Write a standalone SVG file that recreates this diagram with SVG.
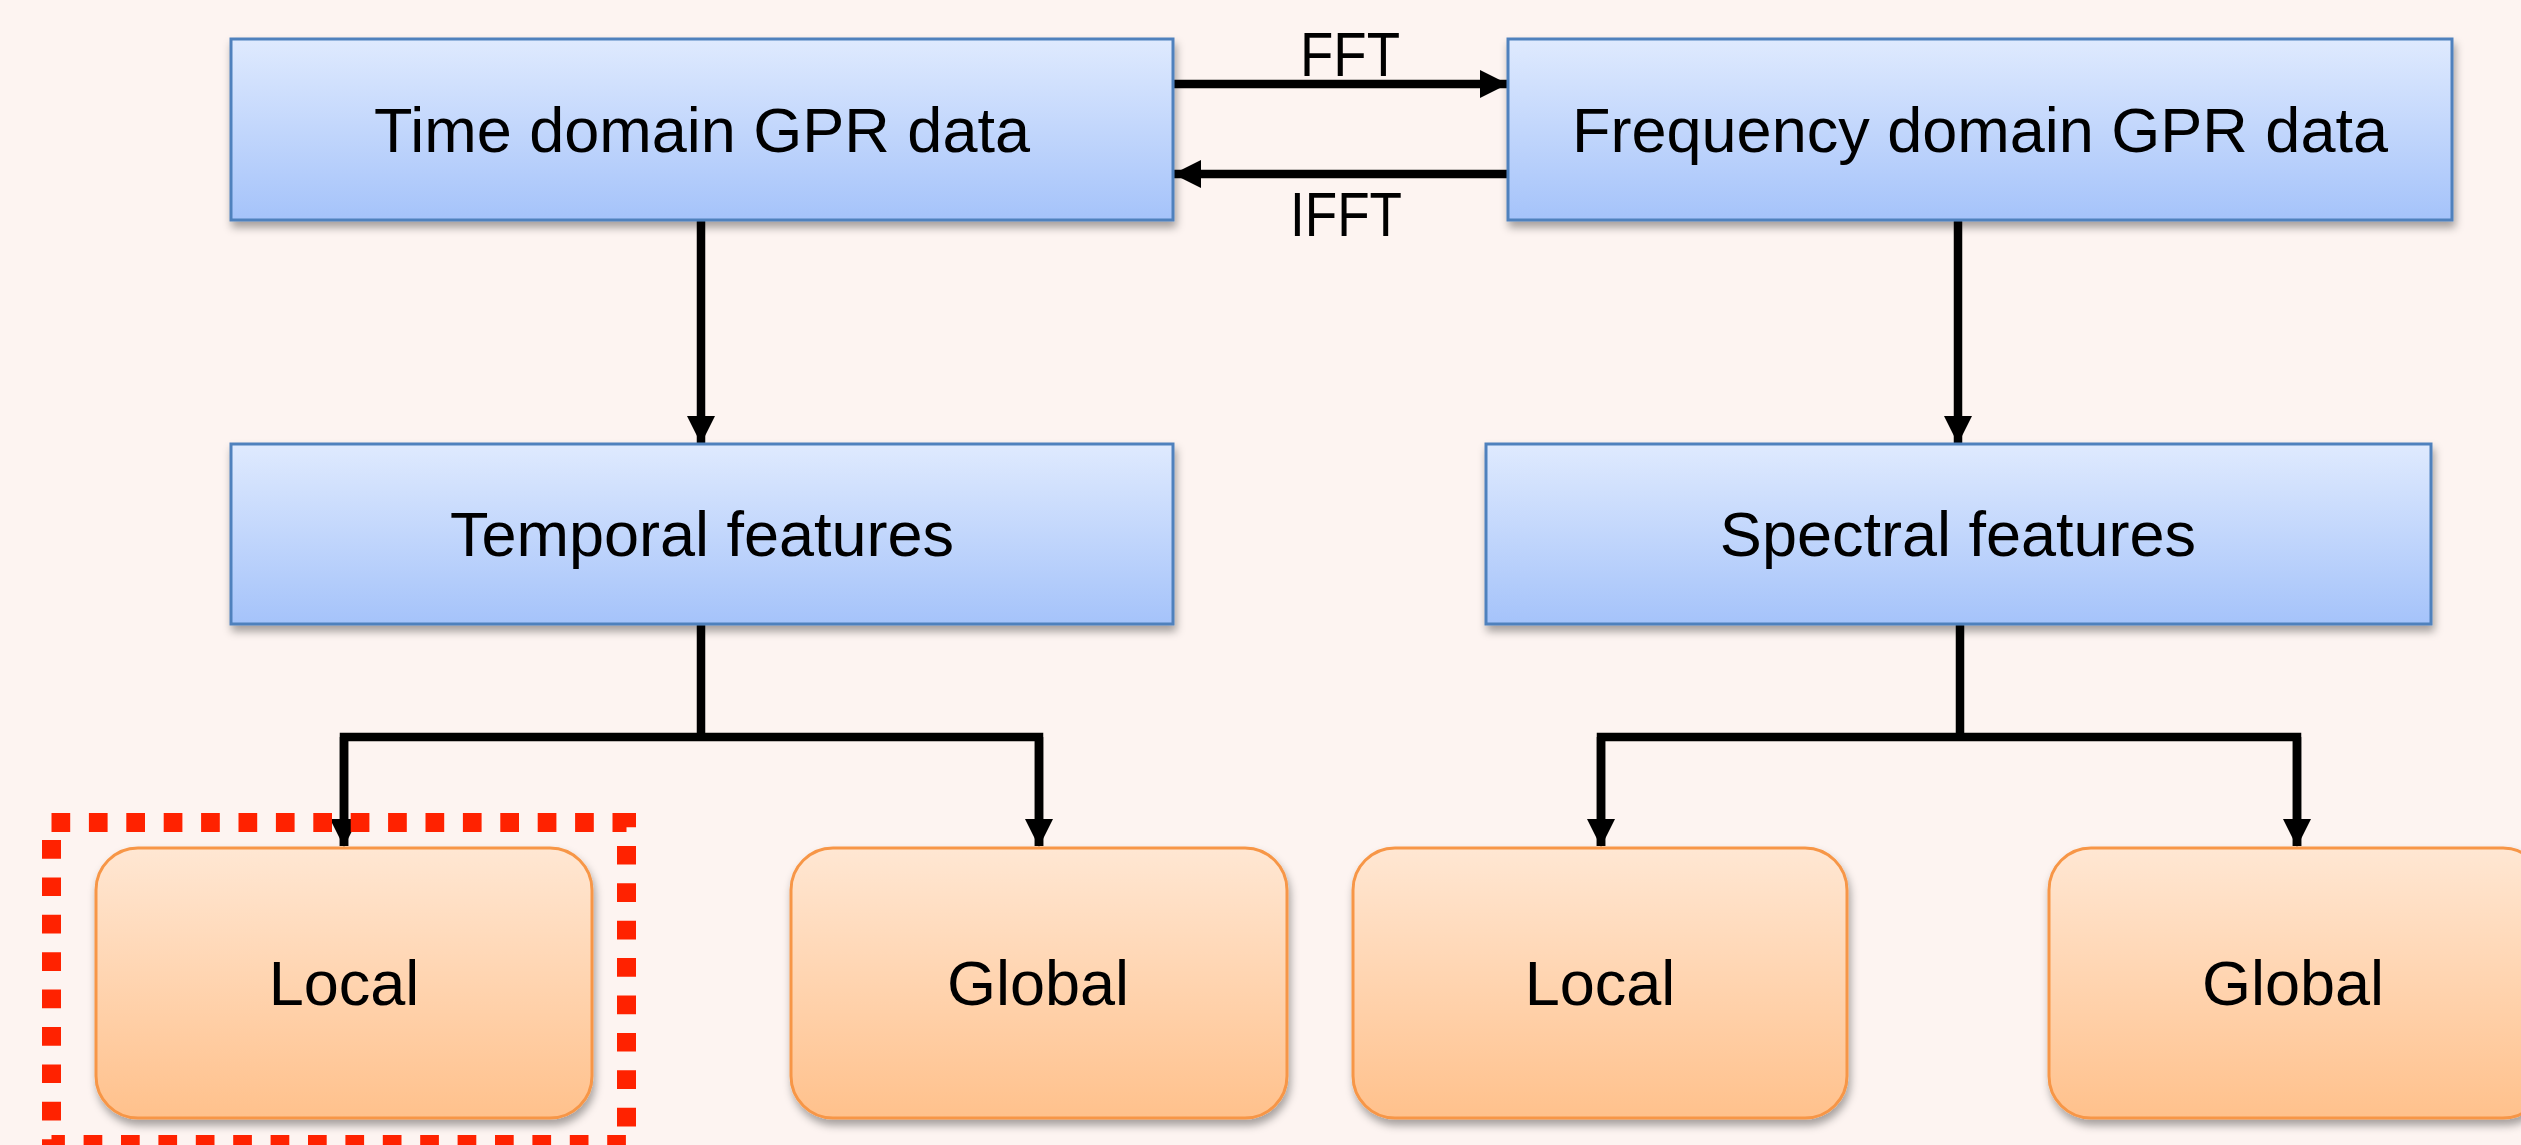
<svg xmlns="http://www.w3.org/2000/svg" width="2521" height="1145" viewBox="0 0 2521 1145">
<defs>
<linearGradient id="gBlue" x1="0" y1="0" x2="0" y2="1">
<stop offset="0" stop-color="#DFEAFE"/>
<stop offset="1" stop-color="#A5C3FA"/>
</linearGradient>
<linearGradient id="gOrange" x1="0" y1="0" x2="0" y2="1">
<stop offset="0" stop-color="#FFE7D3"/>
<stop offset="1" stop-color="#FFC18C"/>
</linearGradient>
<filter id="shadow" x="-10%" y="-10%" width="120%" height="130%">
<feDropShadow dx="2" dy="6" stdDeviation="4" flood-color="#000" flood-opacity="0.35"/>
</filter>
<marker id="arrow" markerUnits="userSpaceOnUse" markerWidth="28" markerHeight="28" viewBox="0 0 28 28" refX="27" refY="14" orient="auto">
<path d="M0,0 L28,14 L0,28 Z" fill="#000"/>
</marker>
<style>
.bbox{fill:url(#gBlue);stroke:#4F81BD;stroke-width:3;filter:url(#shadow)}
.obox{fill:url(#gOrange);stroke:#F79646;stroke-width:3;filter:url(#shadow)}
.lbl{font-family:"Liberation Sans",Arial,sans-serif;font-size:63px;fill:#000;text-anchor:middle}
.con{fill:none;stroke:#000;stroke-width:8.5;stroke-linejoin:miter}
.arr{marker-end:url(#arrow)}
</style>
</defs>
<rect x="0" y="0" width="2521" height="1145" fill="#FDF4F1"/>

<g id="connectors">
<line class="con arr" x1="1173" y1="84" x2="1507" y2="84"/>
<line class="con arr" x1="1508" y1="174" x2="1174" y2="174"/>
<line class="con arr" x1="701" y1="220" x2="701" y2="443"/>
<line class="con arr" x1="1958" y1="220" x2="1958" y2="443"/>
<line class="con" x1="701" y1="624" x2="701" y2="737"/>
<path class="con" d="M344,846 V737 H1039 V846"/>
<line class="con arr" x1="344" y1="737" x2="344" y2="846"/>
<line class="con arr" x1="1039" y1="737" x2="1039" y2="846"/>
<line class="con" x1="1960" y1="624" x2="1960" y2="737"/>
<path class="con" d="M1601,846 V737 H2297 V846"/>
<line class="con arr" x1="1601" y1="737" x2="1601" y2="846"/>
<line class="con arr" x1="2297" y1="737" x2="2297" y2="846"/>
<text class="lbl" x="1350" y="76" textLength="100" lengthAdjust="spacingAndGlyphs">FFT</text>
<text class="lbl" x="1346" y="236" textLength="112" lengthAdjust="spacingAndGlyphs">IFFT</text>
</g>

<g id="time-domain">
<rect class="bbox" x="231" y="39" width="942" height="181"/>
<text class="lbl" x="702" y="152">Time domain GPR data</text>
</g>
<g id="frequency-domain">
<rect class="bbox" x="1508" y="39" width="944" height="181"/>
<text class="lbl" x="1980" y="152">Frequency domain GPR data</text>
</g>
<g id="temporal-features">
<rect class="bbox" x="231" y="444" width="942" height="180"/>
<text class="lbl" x="702" y="556">Temporal features</text>
</g>
<g id="spectral-features">
<rect class="bbox" x="1486" y="444" width="945" height="180"/>
<text class="lbl" x="1958" y="556">Spectral features</text>
</g>
<g id="temporal-local">
<rect class="obox" x="96" y="848" width="496" height="270" rx="42" ry="42"/>
<text class="lbl" x="344" y="1005">Local</text>
</g>
<g id="temporal-global">
<rect class="obox" x="791" y="848" width="496" height="270" rx="42" ry="42"/>
<text class="lbl" x="1038" y="1005">Global</text>
</g>
<g id="spectral-local">
<rect class="obox" x="1353" y="848" width="494" height="270" rx="42" ry="42"/>
<text class="lbl" x="1600" y="1005">Local</text>
</g>
<g id="spectral-global">
<rect class="obox" x="2049" y="848" width="496" height="270" rx="42" ry="42"/>
<text class="lbl" x="2293" y="1005">Global</text>
</g>

<g id="highlight">
<rect x="51.5" y="822.5" width="575" height="322" fill="none" stroke="#FF2200" stroke-width="19" stroke-dasharray="18.7 18.7"/>
</g>
</svg>
